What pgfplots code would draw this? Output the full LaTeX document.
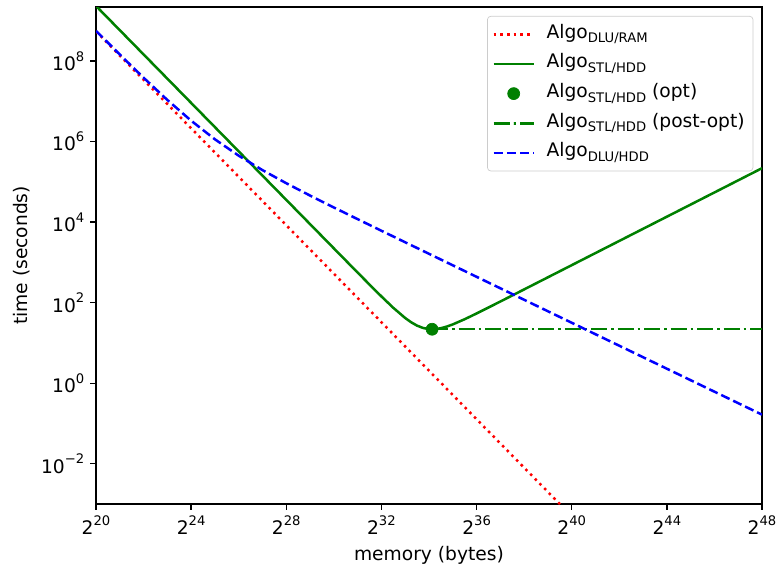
\documentclass[border=0pt]{standalone}
\usepackage{fontspec}
\setmainfont{DejaVu Sans}
\usepackage{pgfplots}
\pgfplotsset{compat=1.18}
\newcommand{\fs}{\fontsize{11.2}{13.4}\selectfont}
\newcommand{\pw}[2]{#1\raisebox{0.9ex}{\fontsize{7.9}{8}\selectfont #2}}
\newcommand{\algo}[1]{Algo\raisebox{-0.45ex}{\fontsize{7.9}{8}\selectfont #1}}

\definecolor{mplred}{rgb}{1,0,0}
\definecolor{mplgreen}{rgb}{0,0.5,0}
\definecolor{mplblue}{rgb}{0,0,1}

% memory (bytes) vs time (seconds)
\pgfplotstableread{
x y
1048576 5.480e8
1.09951162778e12 4.984e-4
}\dluram

\pgfplotstableread{
x y
1048576 2.339e9
4194304 1.461e8
16777216 9.130e6
67108864 5.707e5
268435456 3.567e4
1073741824 2230.4
1.518500e9 1116
2147483648 559.0
3.036999e9 281.1
4294967296 142.7
6.073998e9 74.38
8589934592 41.5
1.021519e10 32.57
1.21477e10 26.85
1.444655e10 23.53
1.71799e10 22.05
1.87997e10 21.87
2.043038e10 22.02
2.42954e10 23.22
2.88931e10 25.51
3.43597e10 28.86
4.85910e10 38.81
6.87195e10 53.9
9.71821e10 75.72
1.37439e11 106.8
2.74878e11 213.4
1.09951e12 853.6
4.39805e12 3414
1.75922e13 13646
7.03687e13 54575
2.81475e14 2.185e5
}\stlhdd

\pgfplotstableread{
x y
1048576 5.641e8
2097152 1.4535e8
4194304 3.858e7
8388608 1.0806e7
16777216 3.305e6
33554432 1.1385e6
67108864 4.466e5
134217728 1.9560e5
268435456 92421
536870912 45679
1073741824 23117
2147483648 11846
4294967296 6106
1.71799e10 1634.6
6.87195e10 438.8
1.09951e12 31.70
1.75922e13 2.290
2.81475e14 0.1655
}\dluhdd

\begin{document}
\begin{tikzpicture}
\begin{axis}[
  width=399.6pt, height=298.2pt, scale only axis,
  xmode=log, ymode=log, log basis x=2, log basis y=10,
  xmin=1048576, xmax=2.81474976710656e14,
  ymin=1e-3, ymax=2.2e9,
  xtick={1048576,16777216,268435456,4294967296,6.8719476736e10,1.099511627776e12,1.7592186044416e13,2.81474976710656e14},
  xticklabels={\pw{2}{20},\pw{2}{24},\pw{2}{28},\pw{2}{32},\pw{2}{36},\pw{2}{40},\pw{2}{44},\pw{2}{48}},
  ytick={1e-2,1,1e2,1e4,1e6,1e8},
  yticklabels={\pw{10}{−2},\pw{10}{0},\pw{10}{2},\pw{10}{4},\pw{10}{6},\pw{10}{8}},
  xminorticks=false, yminorticks=false,
  tick align=outside, major tick length=3.5pt,
  xtick pos=bottom, ytick pos=left,
  axis line style={line width=0.8pt},
  every tick/.style={line width=0.8pt, black},
  tick label style={font=\fs},
  xlabel={memory (bytes)}, ylabel={time (seconds)},
  label style={font=\fs},
  legend cell align=left,
  legend image code/.code={\draw[mark repeat=2,mark phase=2,#1] plot coordinates {(0pt,0pt) (12pt,0pt) (24pt,0pt)};},
  legend style={at={(0.987,0.982)}, anchor=north east, draw=black!20,
    rounded corners=2pt, fill=white, font=\fs,
    inner xsep=3pt, inner ysep=3pt, row sep=2.2pt, column sep=5pt,
    nodes={inner sep=2pt, text height=8.2pt, text depth=3.4pt}},
]
\addplot[mplred, line width=1.5pt, dash pattern=on 1.5pt off 2.5pt] table[x=x,y=y] {\dluram};
\addlegendentry{\algo{DLU/RAM}}
\addplot[mplgreen, line width=1.5pt] table[x=x,y=y] {\stlhdd};
\addlegendentry{\algo{STL/HDD}}
\addplot[mplgreen, only marks, mark=*, mark size=3.6pt] coordinates {(1.87997e10,21.87)};
\addlegendentry{\algo{STL/HDD} (opt)}
\addplot[mplgreen, line width=1.5pt, dash pattern=on 9.6pt off 2.4pt on 1.5pt off 2.4pt] coordinates {(1.87997e10,21.87) (2.81475e14,21.87)};
\addlegendentry{\algo{STL/HDD} (post-opt)}
\addplot[mplblue, line width=1.5pt, dash pattern=on 5.55pt off 2.4pt] table[x=x,y=y] {\dluhdd};
\addlegendentry{\algo{DLU/HDD}}
\coordinate (ll) at (rel axis cs:0,0);
\coordinate (ur) at (rel axis cs:1,1);
\end{axis}
\pgfresetboundingbox
\path ([xshift=-57.6pt,yshift=-38.4pt]ll) rectangle ([xshift=9.6pt,yshift=4.2pt]ur);
\end{tikzpicture}
\end{document}
